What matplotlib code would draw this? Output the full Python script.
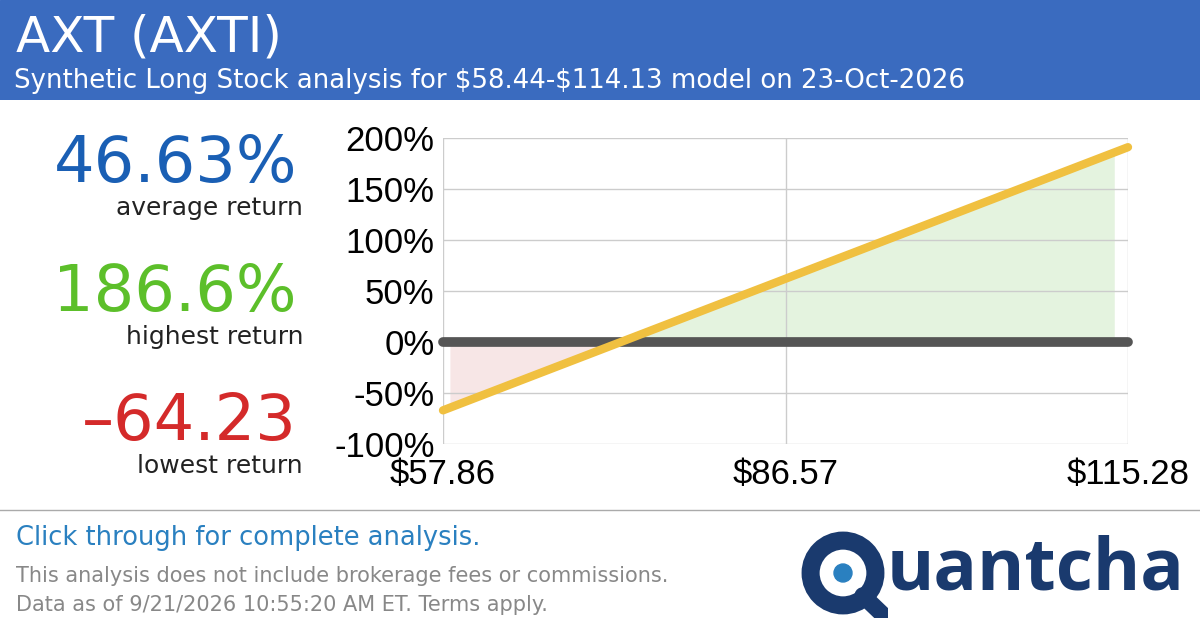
import matplotlib
matplotlib.use("Agg")
import matplotlib.pyplot as plt
import numpy as np
plt.rcParams["text.parse_math"] = False

title = "AXT (AXTI)"
subtitle = "Synthetic Long Stock analysis for $58.44-$114.13 model on 23-Oct-2026"
line_x = [57.86, 115.28]
line_y = [-67.0, 191.0]
fill_x = [58.44, 72.8, 114.13]
fill_y = [-64.23, 0.0, 186.6]
xticks = [57.86, 86.57, 115.28]
xticklabels = ["$57.86", "$86.57", "$115.28"]
yticks = [-100, -50, 0, 50, 100, 150, 200]

W, H = 1200, 630
fig = plt.figure(figsize=(W/100, H/100), dpi=100)
fig.patch.set_facecolor("white")
F = "DejaVu Sans"

hdr = fig.add_axes([0, 1-100/H, 1, 100/H]); hdr.axis("off")
hdr.add_patch(plt.Rectangle((0, 0), 1, 1, color="#3a6bbf", transform=hdr.transAxes))
fig.text(16/W, 1-38/H, title, color="white", fontsize=36, va="center", family=F)
fig.text(14/W, 1-81/H, subtitle, color="white", fontsize=18.7, va="center", family=F)

def stat(y1, txt, col, y2, lab):
    fig.text(297/W, 1-y1/H, txt, color=col, fontsize=46, ha="right", va="center", family=F)
    fig.text(303/W, 1-y2/H, lab, color="#222222", fontsize=18, ha="right", va="center", family=F)
stat(164, "46.63%", "#1a5fb4", 208, "average return")
stat(293, "186.6%", "#5cbf2a", 337, "highest return")
stat(422, "\u201364.23", "#d42a2a", 466, "lowest return")

ax = fig.add_axes([443/W, 1-444/H, (1128-443)/W, (444-138)/H])
ax.set_xlim(xticks[0], xticks[-1]); ax.set_ylim(-100, 200)
fx = np.array(fill_x); fy = np.array(fill_y)
ax.fill_between(fx[:2], fy[:2], 0, color="#f5e0e0", alpha=0.8, lw=0)
ax.fill_between(fx[1:], fy[1:], 0, color="#e2f2dc", alpha=0.9, lw=0)
ax.plot([xticks[0], xticks[-1]], [0, 0], color="#555555", lw=7, solid_capstyle="round", zorder=3, clip_on=False)
ax.plot(line_x, line_y, color="#f0c040", lw=6, solid_capstyle="round", zorder=4, clip_on=False)
ax.set_xticks(xticks); ax.set_xticklabels(xticklabels)
ax.set_yticks(yticks); ax.set_yticklabels([f"{v}%" for v in yticks])
ax.grid(True, color="#cccccc", lw=1)
for s in ax.spines.values(): s.set_visible(False)
ax.tick_params(axis="y", length=0, labelsize=25, pad=6)
ax.tick_params(axis="x", length=0, labelsize=25, pad=10)
for t in ax.get_xticklabels() + ax.get_yticklabels():
    t.set_family("Liberation Sans")

fig.add_artist(plt.Line2D([0, 1], [1-510/H]*2, color="#aaaaaa", lw=1))
fig.text(16/W, 1-538/H, "Click through for complete analysis.", color="#2a80c0", fontsize=18.5, va="center", family=F)
fig.text(16/W, 1-576/H, "This analysis does not include brokerage fees or commissions.", color="#888888", fontsize=15, va="center", family=F)
fig.text(16/W, 1-605/H, "Data as of 9/21/2026 10:55:20 AM ET. Terms apply.", color="#888888", fontsize=15, va="center", family=F)
fig.text(1185/W, 1-570/H, "uantcha", color="#1a3a6e", fontsize=52, ha="right", va="center", family="Open Sans", weight="bold")
qa = fig.add_axes([798/W, 1-618/H, 90/W, 90/H]); qa.axis("off"); qa.set_xlim(0, 1); qa.set_ylim(0, 1); qa.set_aspect("equal")
qa.add_patch(plt.Circle((0.5, 0.5), 0.36, fill=False, ec="#1a3a6e", lw=13))
qa.add_patch(plt.Circle((0.5, 0.5), 0.1, color="#2a80c0"))
qa.plot([0.72, 0.95], [0.25, 0.03], color="#1a3a6e", lw=12, solid_capstyle="round")

fig.savefig("out.png", dpi=100)
